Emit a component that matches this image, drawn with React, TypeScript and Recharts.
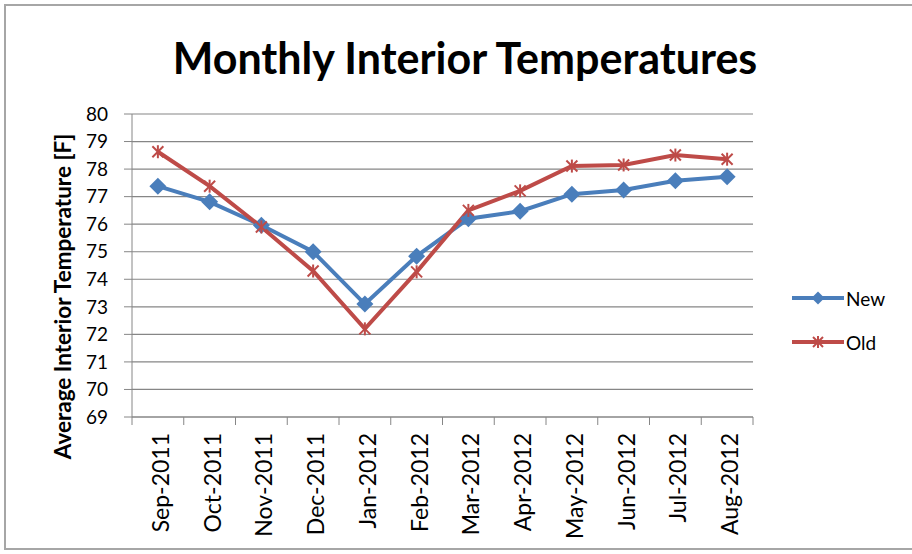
import * as React from "react";
import { LineChart, Line, XAxis, YAxis, CartesianGrid, Legend } from "recharts";

const months = [
  "Sep-2011", "Oct-2011", "Nov-2011", "Dec-2011", "Jan-2012", "Feb-2012",
  "Mar-2012", "Apr-2012", "May-2012", "Jun-2012", "Jul-2012", "Aug-2012",
];
const newTemps = [77.38, 76.81, 75.96, 75.0, 73.1, 74.84, 76.2, 76.47, 77.09, 77.24, 77.58, 77.72];
const oldTemps = [78.63, 77.38, 75.9, 74.3, 72.2, 74.27, 76.5, 77.21, 78.11, 78.15, 78.51, 78.36];
const yTicks = [69, 70, 71, 72, 73, 74, 75, 76, 77, 78, 79, 80];

const data = months.map((month, i) => ({ month, New: newTemps[i], Old: oldTemps[i] }));

const CHART_W = 912;
const CHART_H = 554;
const MARGIN = { top: 114, right: 159, bottom: 0, left: 0 };
const Y_AXIS_W = 132;
const X_AXIS_H = 137;
const bandWidth = (CHART_W - MARGIN.left - MARGIN.right - Y_AXIS_W) / months.length;

const font = "Lato, 'Open Sans', sans-serif";
const blue = "#4a7ebb";
const red = "#be4b48";
const axisColor = "#868686";

function Diamond({ cx, cy, r = 8.5 }: { cx: number; cy: number; r?: number }) {
  return <path d={`M${cx},${cy - r}L${cx + r},${cy}L${cx},${cy + r}L${cx - r},${cy}Z`} fill={blue} />;
}

function Star({ cx, cy, r = 5.5 }: { cx: number; cy: number; r?: number }) {
  return (
    <g stroke={red} strokeWidth={2}>
      <line x1={cx - r} y1={cy - r} x2={cx + r} y2={cy + r} />
      <line x1={cx - r} y1={cy + r} x2={cx + r} y2={cy - r} />
      <line x1={cx} y1={cy - r - 1} x2={cx} y2={cy + r + 1} />
    </g>
  );
}

function MonthTick(props: any) {
  const { x, y, payload, index } = props;
  return (
    <g>
      <line x1={x - bandWidth / 2} x2={x - bandWidth / 2} y1={y} y2={y + 8} stroke={axisColor} />
      {index === months.length - 1 && (
        <line x1={x + bandWidth / 2} x2={x + bandWidth / 2} y1={y} y2={y + 8} stroke={axisColor} />
      )}
      <text
        transform={`translate(${x + 2},${y + 16}) rotate(-90)`}
        textAnchor="end"
        dominantBaseline="central"
        fontSize={23}
        fontFamily={font}
        fill="#000"
      >
        {payload.value}
      </text>
    </g>
  );
}

function LegendBox() {
  const row = (name: string, color: string, marker: React.ReactNode) => (
    <div style={{ display: "flex", alignItems: "center", height: 44 }}>
      <svg width={56} height={20}>
        <line x1={2} x2={54} y1={10} y2={10} stroke={color} strokeWidth={4} />
        {marker}
      </svg>
      <span style={{ fontSize: 19, fontFamily: font, color: "#000" }}>{name}</span>
    </div>
  );
  return (
    <div>
      {row("New", blue, <Diamond cx={28} cy={10} r={6.5} />)}
      {row("Old", red, <Star cx={28} cy={10} r={5} />)}
    </div>
  );
}

export default function App() {
  return (
    <div style={{ position: "absolute", left: 0, top: 0, width: CHART_W, height: CHART_H, background: "#fff" }}>
      <div
        style={{
          position: "absolute",
          left: 4,
          top: 4,
          width: CHART_W + 10,
          height: 546,
          border: "2px solid #a6a6a6",
          boxSizing: "border-box",
        }}
      />
      <div
        style={{
          position: "absolute",
          left: 0,
          top: 32,
          width: 930,
          textAlign: "center",
          fontFamily: font,
          fontWeight: 700,
          fontSize: 43,
          lineHeight: "52px",
          color: "#000",
        }}
      >
        Monthly Interior Temperatures
      </div>
      <LineChart width={CHART_W} height={CHART_H} data={data} margin={MARGIN}>
        <CartesianGrid horizontal vertical={false} stroke={axisColor} strokeWidth={1.2} />
        <XAxis
          dataKey="month"
          height={X_AXIS_H}
          interval={0}
          padding={{ left: bandWidth / 2, right: bandWidth / 2 }}
          tickLine={false}
          tickSize={0}
          tickMargin={0}
          stroke={axisColor}
          tick={<MonthTick />}
        />
        <YAxis
          width={Y_AXIS_W}
          domain={[69, 80]}
          ticks={yTicks}
          interval={0}
          stroke={axisColor}
          tickSize={8}
          tickMargin={16}
          tick={{ fill: "#000", fontSize: 19, fontFamily: font }}
          label={{
            content: (p: any) => {
              const vb = p.viewBox || { x: 0, y: 114, width: 132, height: 303 };
              const cx = 62;
              const cy = vb.y + vb.height / 2 + 31;
              return (
                <text
                  transform={`translate(${cx},${cy}) rotate(-90)`}
                  textAnchor="middle"
                  dominantBaseline="central"
                  fontSize={22.5}
                  fontWeight={700}
                  fontFamily={font}
                  fill="#000"
                >
                  Average Interior Temperature [F]
                </text>
              );
            },
          }}
        />
        <Legend
          layout="vertical"
          align="center"
          verticalAlign="middle"
          content={() => <LegendBox />}
          wrapperStyle={{ left: 790, top: 276, width: 110 }}
        />
        <Line
          type="linear"
          dataKey="New"
          stroke={blue}
          strokeWidth={4}
          isAnimationActive={false}
          dot={(p: any) => <Diamond key={`n${p.index}`} cx={p.cx} cy={p.cy} />}
          activeDot={false}
        />
        <Line
          type="linear"
          dataKey="Old"
          stroke={red}
          strokeWidth={4}
          isAnimationActive={false}
          dot={(p: any) => <Star key={`o${p.index}`} cx={p.cx} cy={p.cy} />}
          activeDot={false}
        />
      </LineChart>
    </div>
  );
}
